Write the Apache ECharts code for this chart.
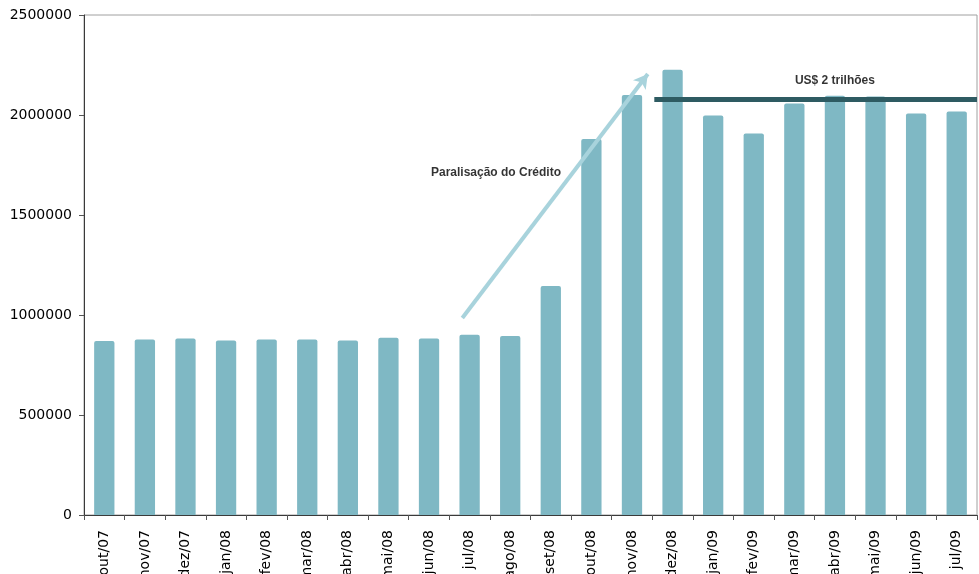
<!DOCTYPE html>
<html>
<head>
<meta charset="utf-8">
<script src="https://cdn.jsdelivr.net/npm/echarts@6/dist/echarts.min.js"></script>
<style>
  html, body { margin: 0; padding: 0; background: #fff; }
  #chart { width: 979px; height: 574px; }
</style>
</head>
<body>
<div id="chart"></div>
<script>
// Monthly categories (Oct/2007 – Jul/2009)
const months = ['out/07','nov/07','dez/07','jan/08','fev/08','mar/08','abr/08','mai/08','jun/08',
  'jul/08','ago/08','set/08','out/08','nov/08','dez/08','jan/09','fev/09','mar/09','abr/09',
  'mai/09','jun/09','jul/09'];

// Bar values per month
const values = [870000, 878000, 883000, 872000, 877000, 878000, 873000, 886000, 883000,
  901000, 895000, 1145000, 1880000, 2100000, 2226000, 1998000, 1908000, 2058000, 2096000,
  2092000, 2007000, 2018000];

// Y axis ticks
const yTicks = { min: 0, max: 2500000, step: 500000 };

// Reference level line ("US$ 2 trilhões"), in category-index units on a hidden value x axis
const levelValue = 2080000;
const levelSpan = [14.05, 22];

// Arrow start / end points [categoryIndex, value]
const arrowFrom = [9.32, 985000];
const arrowTo = [13.89, 2205000];

// Annotation texts [categoryIndex, value, text]
const notes = [
  [18.5, 2170000, 'US$ 2 trilhões'],
  [10.15, 1712000, 'Paralisação do Crédito']
];

const chart = echarts.init(document.getElementById('chart'), null, { renderer: 'canvas' });

chart.setOption({
  animation: false,
  backgroundColor: '#ffffff',
  grid: {
    left: 84, right: 2, top: 15, bottom: 59,
    containLabel: false, outerBoundsMode: 'none',
    show: true, borderColor: '#a0a0a0', borderWidth: 1, backgroundColor: 'transparent'
  },
  xAxis: [
    {
      type: 'category',
      data: months,
      boundaryGap: true,
      axisLine: { show: true, lineStyle: { color: '#3a3a3a', width: 1 } },
      axisTick: { show: true, length: 5, lineStyle: { color: '#555' } },
      axisLabel: {
        interval: 0, rotate: 90, margin: 15,
        color: '#000', fontFamily: 'DejaVu Sans', fontSize: 14
      },
      splitLine: { show: false }
    },
    {
      type: 'value', min: 0, max: 22, show: false
    }
  ],
  yAxis: {
    type: 'value',
    min: yTicks.min, max: yTicks.max, interval: yTicks.step,
    axisLine: { show: true, lineStyle: { color: '#3a3a3a', width: 1 } },
    axisTick: { show: true, length: 5, lineStyle: { color: '#555' } },
    axisLabel: {
      margin: 12, color: '#000', fontFamily: 'DejaVu Sans', fontSize: 14,
      formatter: v => String(v)
    },
    splitLine: { show: false }
  },
  series: [
    {
      type: 'bar',
      data: values,
      barWidth: '50%',
      itemStyle: { color: '#7fb8c4', borderRadius: [2, 2, 0, 0] }
    },
    {
      type: 'scatter',
      xAxisIndex: 1,
      data: notes,
      symbolSize: 0,
      silent: true,
      label: {
        show: true, position: 'inside',
        formatter: p => p.value[2],
        color: '#000', fontFamily: 'Liberation Sans', fontWeight: 'bold', fontSize: 12
      },
      markLine: {
        silent: true,
        label: { show: false },
        data: [
          [
            { coord: arrowFrom, symbol: 'none', lineStyle: { color: '#a8d3dc', width: 4, type: 'solid' } },
            { coord: arrowTo, symbol: 'arrow', symbolSize: [12, 14] }
          ],
          [
            { coord: [levelSpan[0], levelValue], symbol: 'none', lineStyle: { color: '#2e5b62', width: 5, type: 'solid' } },
            { coord: [levelSpan[1], levelValue], symbol: 'none' }
          ]
        ]
      }
    }
  ]
});
</script>
</body>
</html>
